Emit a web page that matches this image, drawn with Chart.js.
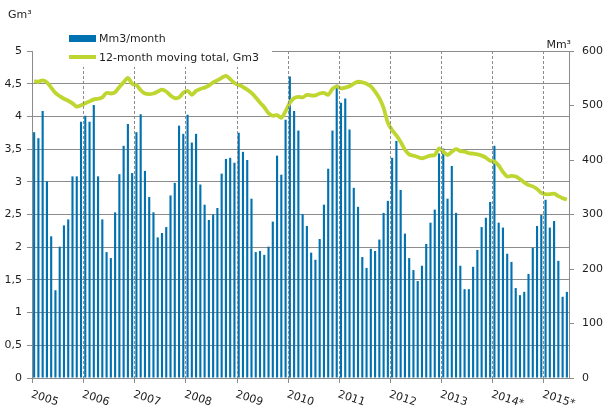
<!DOCTYPE html>
<html>
<head>
<meta charset="utf-8">
<title>Natural gas consumption</title>
<script src="https://cdn.jsdelivr.net/npm/chart.js@4.4.1/dist/chart.umd.min.js"></script>
<style>
    html, body { margin: 0; padding: 0; background: #fff; }
    canvas { display: block; }
</style>
</head>
<body>
<canvas id="gas-chart" width="606" height="416"></canvas>
<script>
// Gas consumption, monthly bars (right axis) and 12-month moving total (left axis)

const yearLabels = ["2005", "2006", "2007", "2008", "2009", "2010", "2011", "2012", "2013", "2014*", "2015*"];

const monthlyMm3 = [
    451, 440, 490, 361, 260, 161, 241, 280, 291, 370, 370, 470, // 2005
    481, 470, 501, 370, 291, 231, 220, 304, 374, 426, 466, 376, // 2006
    451, 484, 380, 332, 304, 258, 266, 277, 335, 358, 463, 448, // 2007
    483, 432, 448, 355, 318, 290, 300, 312, 375, 402, 404, 395, // 2008
    450, 415, 400, 329, 231, 233, 226, 241, 287, 408, 373, 474, // 2009
    553, 490, 454, 301, 279, 230, 217, 255, 318, 384, 454, 538, // 2010
    505, 513, 456, 349, 314, 222, 202, 237, 233, 254, 303, 325, // 2011
    404, 435, 345, 265, 220, 198, 178, 206, 246, 285, 309, 412, // 2012
    421, 329, 389, 303, 206, 163, 163, 204, 235, 277, 294, 323, // 2013
    426, 285, 276, 228, 213, 165, 152, 158, 191, 239, 279, 299, // 2014
    327, 276, 288, 215, 149, 158,                               // 2015
];

const movingTotalGm3 = [
    4.54, 4.53, 4.55, 4.52, 4.44, 4.36, 4.31, 4.27, 4.24, 4.20, 4.15, 4.17,
    4.20, 4.23, 4.26, 4.27, 4.29, 4.36, 4.35, 4.37, 4.45, 4.52, 4.59, 4.50,
    4.48, 4.40, 4.35, 4.34, 4.35, 4.38, 4.41, 4.38, 4.32, 4.28, 4.29, 4.36,
    4.39, 4.33, 4.39, 4.42, 4.44, 4.47, 4.52, 4.55, 4.59, 4.62, 4.57, 4.51,
    4.48, 4.45, 4.41, 4.36, 4.29, 4.21, 4.14, 4.05, 4.01, 4.02, 3.98, 4.08,
    4.21, 4.28, 4.30, 4.29, 4.33, 4.32, 4.32, 4.35, 4.36, 4.33, 4.42, 4.46,
    4.43, 4.44, 4.46, 4.50, 4.53, 4.52, 4.50, 4.46, 4.38, 4.28, 4.13, 3.90,
    3.79, 3.71, 3.61, 3.49, 3.42, 3.40, 3.38, 3.36, 3.38, 3.40, 3.41, 3.51,
    3.46, 3.41, 3.46, 3.50, 3.47, 3.46, 3.44, 3.43, 3.42, 3.40, 3.37, 3.32,
    3.31, 3.25, 3.15, 3.08, 3.09, 3.08, 3.04, 2.99, 2.95, 2.93, 2.89, 2.83,
    2.81, 2.81, 2.82, 2.78, 2.75, 2.73,
];

const seriesNames = ["Mm3/month", "12-month moving total, Gm3"];

const colors = {
    bar: "#0072b1",
    line: "#bfd631",
    grid: "#8c8c8c",
    text: "#1e1e1e",
};

const fontFamily = '"DejaVu Sans", Verdana, sans-serif';

// one label per month, the axis only shows the years
const monthLabels = [];
yearLabels.forEach(y => {
    for (let m = 1; m <= 12; m++) monthLabels.push(y.replace("*", "") + "-" + m);
});
monthLabels.length = monthlyMm3.length;

Chart.defaults.font.family = fontFamily;
Chart.defaults.font.size = 11;
Chart.defaults.color = colors.text;

// x pixel of the left edge of January of year i
function yearEdge(chart, i) {
    const { chartArea, scales } = chart;
    const step = (chartArea.right - chartArea.left) / monthLabels.length;
    return scales.x.getPixelForValue(i * 12) - step / 2;
}

// dashed year separators and year tick marks, drawn as small filled dashes
const yearGrid = {
    id: "yearGrid",
    afterDatasetsDraw(chart) {
        const { ctx, chartArea } = chart;
        ctx.save();
        ctx.globalAlpha = 1;
        ctx.fillStyle = colors.grid;
        yearLabels.forEach((label, i) => {
            const x = Math.round(yearEdge(chart, i));
            if (i > 0) {
                for (let y = chartArea.top; y < chartArea.bottom; y += 5) {
                    ctx.fillRect(x, y, 1, Math.min(3, chartArea.bottom - y));
                }
            }
            ctx.fillRect(x, chartArea.bottom, 1, 5);
        });
        ctx.restore();
    },
};

// year labels under the axis, slanted down to the right
const yearAxisLabels = {
    id: "yearAxisLabels",
    afterDraw(chart) {
        const { ctx } = chart;
        ctx.save();
        ctx.font = "11px " + fontFamily;
        ctx.fillStyle = colors.text;
        ctx.textAlign = "left";
        ctx.textBaseline = "top";
        yearLabels.forEach((label, i) => {
            ctx.save();
            ctx.translate(yearEdge(chart, i) + 1, 389);
            ctx.rotate(18 * Math.PI / 180);
            ctx.fillText(label, 0, 0);
            ctx.restore();
        });
        ctx.restore();
    },
};

// legend box over the top of the plot plus the unit captions
const legendAndUnits = {
    id: "legendAndUnits",
    afterDraw(chart) {
        const { ctx } = chart;
        ctx.save();
        ctx.fillStyle = "#fff";
        ctx.fillRect(33, 29, 239, 38);

        ctx.fillStyle = colors.bar;
        ctx.fillRect(69, 35, 27, 7);
        ctx.strokeStyle = colors.line;
        ctx.lineWidth = 4;
        ctx.beginPath();
        ctx.moveTo(69, 57);
        ctx.lineTo(96, 57);
        ctx.stroke();

        ctx.font = "11px " + fontFamily;
        ctx.fillStyle = colors.text;
        ctx.textBaseline = "middle";
        ctx.textAlign = "left";
        ctx.fillText(seriesNames[0], 99, 39);
        ctx.fillText(seriesNames[1], 99, 58);

        ctx.fillText("Gm³", 8, 15);
        ctx.textAlign = "right";
        ctx.fillText("Mm³", 571, 45);
        ctx.restore();
    },
};

new Chart(document.getElementById("gas-chart"), {
    data: {
        labels: monthLabels,
        datasets: [
            {
                type: "line",
                label: seriesNames[1],
                data: movingTotalGm3,
                yAxisID: "y",
                borderColor: colors.line,
                borderWidth: 3.8,
                pointRadius: 0,
                tension: 0.3,
                order: 0,
            },
            {
                type: "bar",
                label: seriesNames[0],
                data: monthlyMm3,
                yAxisID: "y1",
                backgroundColor: colors.bar,
                barPercentage: 0.5,
                categoryPercentage: 1,
                order: 1,
            },
        ],
    },
    options: {
        responsive: false,
        devicePixelRatio: 1,
        animation: false,
        layout: { padding: { top: 51, left: 0, right: 0, bottom: 0 } },
        plugins: {
            legend: { display: false },
            tooltip: { enabled: false },
        },
        scales: {
            x: {
                type: "category",
                offset: true,
                afterFit: s => { s.height = 38; },
                ticks: { display: false },
                grid: { display: false },
                border: { display: true, color: colors.grid },
            },
            y: {
                position: "left",
                min: 0,
                max: 5,
                afterFit: s => { s.width = 32; },
                ticks: {
                    stepSize: 0.5,
                    padding: 5,
                    callback: v => String(v).replace(".", ","),
                },
                grid: { color: colors.grid, tickLength: 5 },
                border: { display: true, color: colors.grid },
            },
            y1: {
                position: "right",
                min: 0,
                max: 600,
                afterFit: s => { s.width = 37; },
                ticks: { stepSize: 100, padding: 8 },
                grid: { drawOnChartArea: false, color: colors.grid, tickLength: 5 },
                border: { display: true, color: colors.grid },
            },
        },
    },
    plugins: [yearGrid, yearAxisLabels, legendAndUnits],
});
</script>
</body>
</html>
